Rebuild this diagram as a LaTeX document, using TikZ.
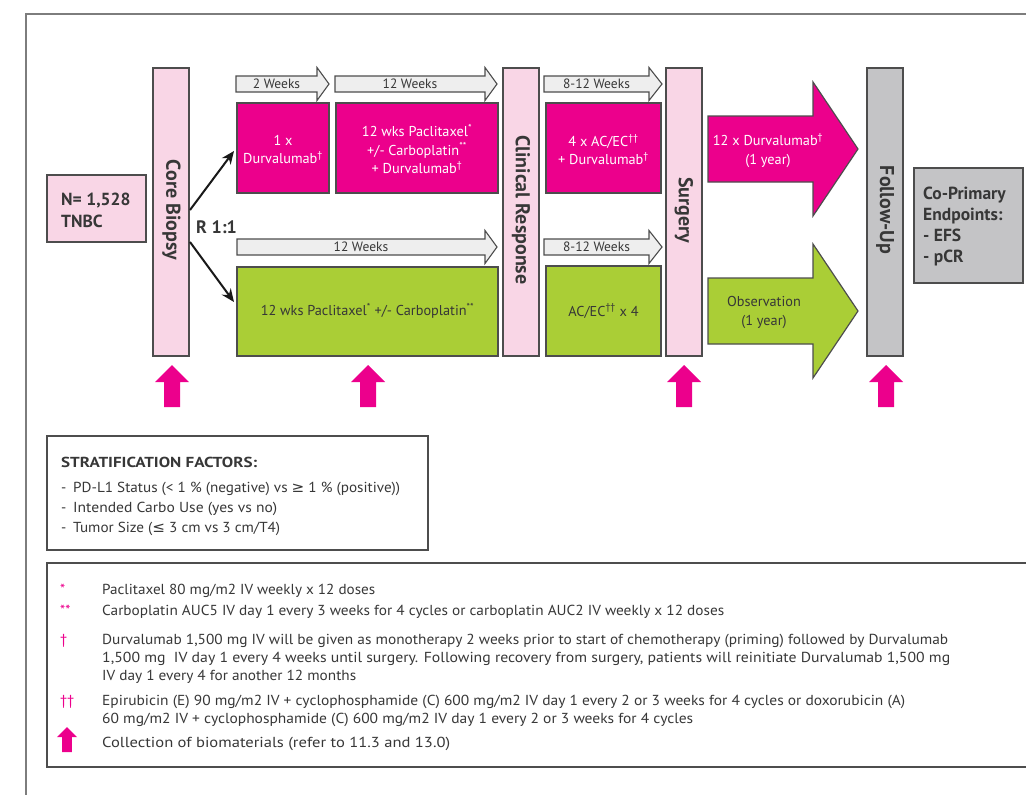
\documentclass[tikz,border=0pt]{standalone}
\usepackage{fontspec}
\usepackage{graphicx}
\setmainfont{PT Sans}
\newfontfamily\mathsym{DejaVu Sans}
\usetikzlibrary{arrows.meta}
\definecolor{dmag}{RGB}{236,0,140}
\definecolor{lpink}{RGB}{249,214,230}
\definecolor{lgreen}{RGB}{170,206,54}
\definecolor{bargray}{RGB}{196,196,198}
\definecolor{tgray}{RGB}{238,238,238}
\definecolor{edge}{RGB}{77,77,77}
\definecolor{ink}{RGB}{55,55,55}
\definecolor{framegray}{RGB}{125,125,125}

% grey time arrow: start x, head base x, tip x, centre y, label, name
\newcommand\timearrow[6]{%
  \draw[tarrow] (#1,#4-8) -- (#2,#4-8) -- (#2,#4-16.5) -- (#3,#4)
    -- (#2,#4+16.5) -- (#2,#4+8) -- (#1,#4+8) -- cycle;
  \node[tlabel] (#6) at ({(#1+#2)/2},#4) {#5};}
% large block arrow towards follow-up: fill colour, centre y
\newcommand\bigarrow[2]{%
  \draw[fill=#1,draw=edge,line width=1.2pt] (708,#2-33) -- (813,#2-33) -- (813,#2-67)
    -- (858,#2) -- (813,#2+67) -- (813,#2+33) -- (708,#2+33) -- cycle;}
% biomaterial collection marker: centre x, top y, scale
\newcommand\biomark[3]{%
  \fill[dmag] (#1,#2) -- (#1+17*#3,#2+17*#3) -- (#1+8*#3,#2+17*#3) -- (#1+8*#3,#2+42*#3)
    -- (#1-8*#3,#2+42*#3) -- (#1-8*#3,#2+17*#3) -- (#1-17*#3,#2+17*#3) -- cycle;}
% text line set to a given width: name, x, baseline y, width, text
\newcommand\fitline[5]{%
  \node[note] (#1) at (#2,#3) {\resizebox{#4pt}{\height}{#5}};}
\newcommand\geqsym{{\mathsym ≥}}
\newcommand\leqsym{{\mathsym ≤}}

\begin{document}
\begin{tikzpicture}[x=1pt,y=-1pt,
  box/.style={draw=edge,line width=1.3pt,anchor=north west,inner sep=0pt,outer sep=0pt},
  pinkbar/.style={box,fill=lpink,minimum width=36pt,minimum height=288pt},
  greybar/.style={box,fill=bargray,minimum width=36pt,minimum height=288pt},
  magbox/.style={box,fill=dmag},
  grnbox/.style={box,fill=lgreen},
  barlabel/.style={rotate=-90,font=\bfseries\fontsize{20}{22}\selectfont,text=ink,inner sep=0pt},
  wtext/.style={align=center,text=white,font=\fontsize{14.3}{18.5}\selectfont,inner sep=0pt},
  dtext/.style={align=center,text=ink,font=\fontsize{14.3}{18.5}\selectfont,inner sep=0pt},
  tarrow/.style={fill=tgray,draw=edge,line width=1.1pt},
  tlabel/.style={text=ink,font=\fontsize{13.5}{16}\selectfont,inner sep=0pt},
  split/.style={line width=2pt,draw=black!90,-{Stealth[length=13pt,width=11pt]}},
  note/.style={anchor=base west,text=ink,font=\fontsize{14.5}{17}\selectfont,inner sep=0pt},
  sym/.style={anchor=base west,text=dmag,font=\fontsize{14.5}{17}\selectfont,inner sep=0pt}
]
\useasboundingbox (0,0) rectangle (1026,795);

% outer frame
\draw[framegray,line width=1.6pt] (26,795) -- (26,14) -- (1026,14);

% population and vertical stage bars
\node[box,fill=lpink,minimum width=99pt,minimum height=67pt] (pop) at (47,175) {};
\node[anchor=west,align=left,text=ink,font=\bfseries\fontsize{17.5}{22}\selectfont,inner sep=0pt]
  (popt) at (61,210) {N= 1,528\\TNBC};

\node[pinkbar] (cb) at (153,68) {};
\node[barlabel] (cbt) at (171.5,210) {Core Biopsy};
\node[pinkbar] (cr) at (503,68) {};
\node[barlabel] (crt) at (521,210) {Clinical Response};
\node[pinkbar] (sg) at (666,68) {};
\node[barlabel] (sgt) at (684,210) {Surgery};
\node[greybar] (fu) at (867,68) {};
\node[barlabel] (fut) at (885,210) {Follow-Up};

% randomisation
\coordinate (s1) at (190,210);
\coordinate (s2) at (190,242);
\coordinate (e1) at (234,151);
\coordinate (e2) at (234,302);
\draw[split] (s1) -- (e1);
\draw[split] (s2) -- (e2);
\node[anchor=west,text=ink,font=\bfseries\fontsize{18}{22}\selectfont,inner sep=0pt] (rand) at (196,227) {R 1:1};

% time arrows
\timearrow{236}{317}{329}{84}{2 Weeks}{t1}
\timearrow{335}{485}{497}{84}{12 Weeks}{t2}
\timearrow{544}{649}{662}{84}{8-12 Weeks}{t3}
\timearrow{237}{485}{497}{247}{12 Weeks}{t4}
\timearrow{544}{649}{662}{247}{8-12 Weeks}{t5}

% treatment blocks, durvalumab arm
\node[magbox,minimum width=92pt,minimum height=90pt] (p1) at (237,103) {};
\node[wtext] (p1t) at (283,149.5) {1 x\\Durvalumab\textsuperscript{†}};
\node[magbox,minimum width=162pt,minimum height=90pt] (p2) at (336,103) {};
\node[wtext] (p2t) at (417,149) {12 wks Paclitaxel\textsuperscript{*}\\+/- Carboplatin\textsuperscript{**}\\+ Durvalumab\textsuperscript{†}};
\node[magbox,minimum width=115pt,minimum height=90pt] (p3) at (546,103) {};
\node[wtext] (p3t) at (603.5,149.5) {4 x AC/EC\textsuperscript{††}\\+ Durvalumab\textsuperscript{†}};

% treatment blocks, control arm
\node[grnbox,minimum width=261pt,minimum height=89pt] (g1) at (237,267) {};
\node[dtext] (g1t) at (367.5,311) {12 wks Paclitaxel\textsuperscript{*} +/- Carboplatin\textsuperscript{**}};
\node[grnbox,minimum width=115pt,minimum height=90pt] (g2) at (546,266) {};
\node[dtext] (g2t) at (603.5,311) {AC/EC\textsuperscript{††} x 4};

% post-surgery phase
\bigarrow{dmag}{149}
\node[wtext] (a1t) at (768,150.5) {12 x Durvalumab\textsuperscript{†}\\(1 year)};
\bigarrow{lgreen}{311}
\node[dtext] (a2t) at (764,312.5) {Observation\\(1 year)};

% endpoints
\node[box,fill=bargray,minimum width=109pt,minimum height=115pt] (ep) at (914,168) {};
\node[anchor=west,align=left,text=ink,font=\bfseries\fontsize{17.5}{21}\selectfont,inner sep=0pt]
  (ept) at (923,227) {Co-Primary\\Endpoints:\\- EFS\\- pCR};

% biomaterial collection points
\biomark{172}{365}{1}
\biomark{368}{365}{1}
\biomark{684}{365}{1}
\biomark{886}{365}{1}

% stratification factors
\node[box,minimum width=381pt,minimum height=114pt] (sf) at (47,436) {};
\fitline{sf0}{61}{467}{196}{\bfseries STRATIFICATION FACTORS:}
\node[note] (sf1d) at (61,492) {-};
\fitline{sf1}{73}{492}{327}{PD-L1 Status (< 1 \% (negative) vs \geqsym{} 1 \% (positive))}
\node[note] (sf2d) at (61,512) {-};
\fitline{sf2}{73}{512}{204}{Intended Carbo Use (yes vs no)}
\node[note] (sf3d) at (61,532) {-};
\fitline{sf3}{73}{532}{207}{Tumor Size (\leqsym{} 3 cm vs 3 cm/T4)}

% footnotes
\draw[edge,line width=1.3pt] (1026,563) -- (47,563) -- (47,767) -- (1026,767);
\node[sym] (k1) at (60,594) {*};
\fitline{n1}{102}{594}{273}{Paclitaxel 80 mg/m2 IV weekly x 12 doses}
\node[sym] (k2) at (60,615) {**};
\fitline{n2}{102}{615}{622}{Carboplatin AUC5 IV day 1 every 3 weeks for 4 cycles or carboplatin AUC2 IV weekly x 12 doses}
\node[sym] (k3) at (60,644) {†};
\fitline{n3}{102}{644}{846}{Durvalumab 1,500 mg IV will be given as monotherapy 2 weeks prior to start of chemotherapy (priming) followed by Durvalumab}
\fitline{n4}{102}{662}{848}{1,500 mg\ \ IV day 1 every 4 weeks until surgery. Following recovery from surgery, patients will reinitiate Durvalumab 1,500 mg}
\fitline{n5}{102}{680}{254}{IV day 1 every 4 for another 12 months}
\node[sym] (k4) at (60,705) {††};
\fitline{n6}{102}{705}{803}{Epirubicin (E) 90 mg/m2 IV + cyclophosphamide (C) 600 mg/m2 IV day 1 every 2 or 3 weeks for 4 cycles or doxorubicin (A)}
\fitline{n7}{102}{723}{591}{60 mg/m2 IV + cyclophosphamide (C) 600 mg/m2 IV day 1 every 2 or 3 weeks for 4 cycles}
\biomark{67}{727}{0.6}
\fitline{n8}{102}{747}{348}{Collection of biomaterials (refer to 11.3 and 13.0)}
\end{tikzpicture}
\end{document}
